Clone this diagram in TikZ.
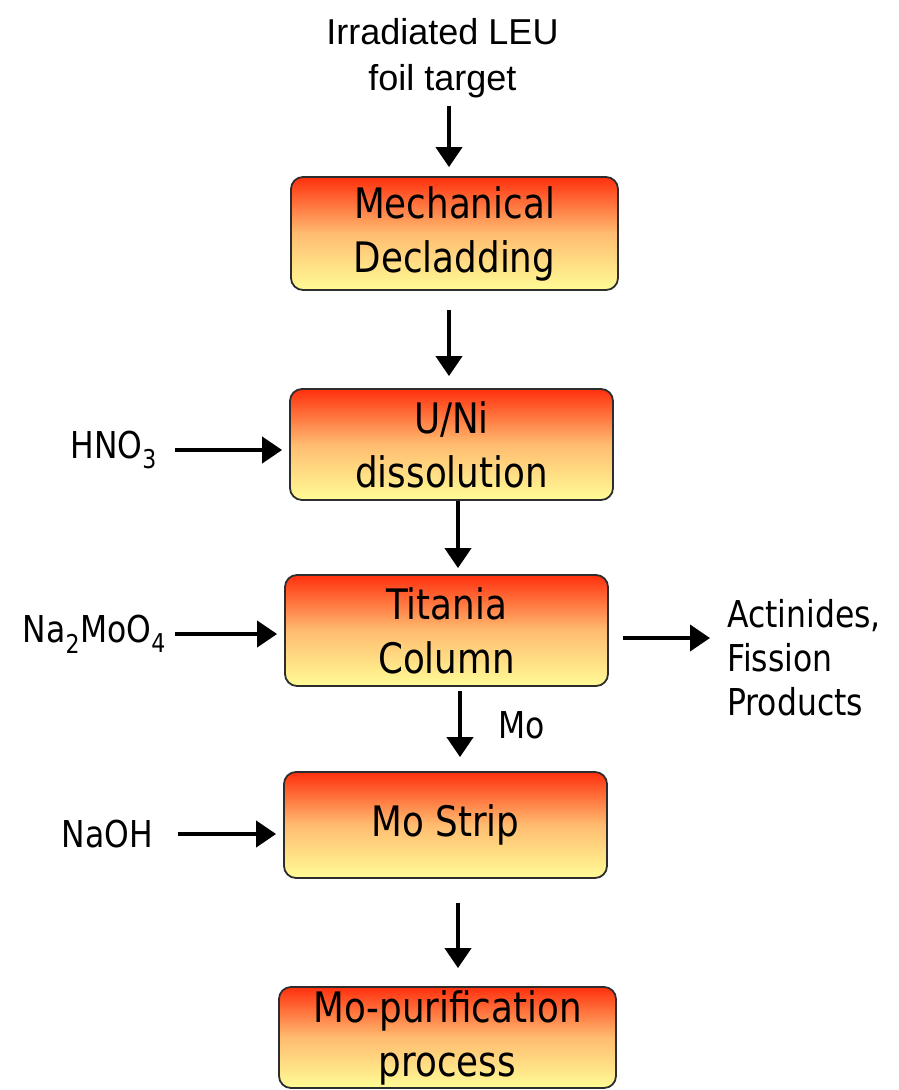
\documentclass[tikz,border=0pt]{standalone}
\usepackage{fontspec}
\setmainfont{DejaVu Sans}[FakeStretch=0.85]
\newfontfamily\arialfont{Liberation Sans}
\usepackage{tikz}
\usetikzlibrary{positioning,arrows.meta}
\usetikzlibrary{calc}

\definecolor{boxtop}{RGB}{255,48,14}
\definecolor{boxmid}{RGB}{255,188,112}
\definecolor{boxbot}{RGB}{255,252,150}
\definecolor{boxline}{RGB}{45,45,45}

\begin{document}
\begin{tikzpicture}[x=1pt, y=-1pt,
  proc/.style={draw=boxline, line width=1.8pt, rounded corners=12pt, top color=boxtop, bottom color=boxbot,
    middle color=boxmid, align=center, inner sep=0pt, font=\fontsize{42}{54}\selectfont},
  lab/.style={inner sep=0pt, font=\fontsize{37}{44}\selectfont},
  arr/.style={-{Triangle[width=26pt, length=20pt]}, draw=black, line width=4pt}]
\useasboundingbox (0,0) rectangle (898,1090);
% process chain
\node[proc, minimum width=327pt, minimum height=113pt] (mech) at (454.5,233.5) {Mechanical\\Decladding};
\node[proc, minimum width=323pt, minimum height=111pt] (diss) at (451.5,444.5) {U/Ni\\dissolution};
\node[proc, minimum width=323pt, minimum height=111pt] (titania) at (446.5,630.5) {Titania\\Column};
\node[proc, minimum width=323pt, minimum height=106pt] (strip) at (445.5,825) {Mo Strip};
\node[proc, minimum width=337pt, minimum height=101pt] (purif) at (447.5,1037.5) {Mo-purification\\process};
% inputs and outputs
\node[lab, align=center, font=\arialfont\fontsize{36}{46}\selectfont] (target) at (442.5,58) {Irradiated LEU\\foil target};
\node[lab, anchor=east] (hno) at (157,450) {HNO\textsubscript{3}};
\node[lab, anchor=east] (namo) at (166,634) {Na\textsubscript{2}MoO\textsubscript{4}};
\node[lab, anchor=east] (naoh) at (153,834) {NaOH};
\node[lab, anchor=west, align=left] (act) at (727,658) {Actinides,\\Fission\\Products};
% arrows
\draw[arr, shorten <=8pt, shorten >=9pt] ([xshift=6.5pt]target.south) -- ([xshift=-5.5pt]mech.north);
\draw[arr, shorten <=19pt, shorten >=12pt] ([xshift=-5.5pt]mech.south) -- ([xshift=-2.5pt]diss.north);
\draw[arr, shorten >=6pt] ([xshift=6.5pt]diss.south) -- ([xshift=11.5pt]titania.north);
\draw[arr, shorten <=4pt, shorten >=14pt] ([xshift=13.5pt]titania.south) -- ([xshift=14.5pt]strip.north)
  node[lab, pos=0.45, right=36pt] (mo) {Mo};
\draw[arr, shorten <=24pt, shorten >=18pt] ([xshift=12.5pt]strip.south) -- ([xshift=10.5pt]purif.north);
\foreach \u/\v/\s in {hno/diss/18pt, namo/titania/9pt, naoh/strip/25pt}
  \draw[arr, shorten <=\s, shorten >=7pt] (\u.east) -- (\v.west |- \u.east);
\draw[arr, shorten <=14pt, shorten >=17pt] ([yshift=-7.5pt]titania.east) -- ([yshift=20pt]act.west);
\end{tikzpicture}
\end{document}
